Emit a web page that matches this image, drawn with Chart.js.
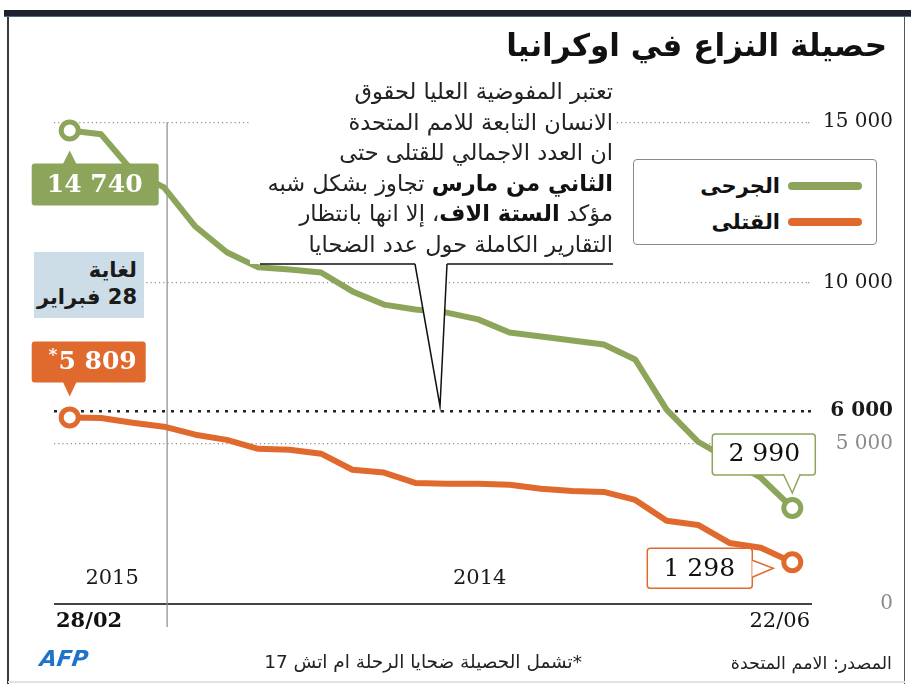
<!DOCTYPE html>
<html>
<head>
<meta charset="utf-8">
<script src="https://cdn.jsdelivr.net/npm/chart.js@4.4.1/dist/chart.umd.min.js"></script>
<style>
  body { margin: 0; background: #fff; }
  #wrap { position: relative; width: 911px; height: 684px; overflow: hidden; background: #fff; }
  #c { position: absolute; left: 0; top: 0; direction: ltr; }
  .ar { font-family: "DejaVu Sans", sans-serif; direction: rtl; position: absolute; white-space: nowrap; color: #1a1a1a; }
  #topbar { position: absolute; left: 4px; top: 10px; width: 907px; height: 6px; background: #1c2230; border-bottom: 1px solid #4d6a80; }
  #frameL { position: absolute; left: 7px; top: 17px; width: 2px; height: 667px; background: #3a3a3a; }
  #frameR { position: absolute; left: 904px; top: 17px; width: 1px; height: 667px; background: #555; }
  #frameB { position: absolute; left: 8px; top: 681px; width: 897px; height: 2px; background: #e2e2e2; }
  #title { right: 24px; top: 23px; font-size: 31px; font-weight: bold; line-height: 44px; color: #111; }
  #note { right: 298px; top: 76px; font-size: 22.5px; line-height: 30.6px; text-align: right; color: #222; }
  #note b { color: #111; }
  #since { left: 34px; top: 252px; width: 110px; height: 66px; background: #cddde7; text-align: right;
           font-size: 21px; font-weight: bold; line-height: 27px; box-sizing: border-box; padding: 5px 7px 0 0; direction: rtl; }
  #legend { position: absolute; left: 633px; top: 159px; width: 244px; height: 86px; box-sizing: border-box;
            border: 1.5px solid #8a8a8a; border-radius: 4px; background: #fff; padding-top: 8px; }
  .lrow { display: flex; justify-content: flex-end; align-items: center; height: 36px; padding-right: 14px; }
  .lrow span { font-family: "DejaVu Sans", sans-serif; font-weight: bold; font-size: 21px; color: #111; margin-right: 8px; }
  .lrow i { display: block; width: 74px; height: 8px; border-radius: 4px; }
  #foot1 { right: 329px; top: 650px; font-size: 18.5px; line-height: 24px; color: #222; }
  #foot2 { right: 19px; top: 651px; font-size: 17.5px; line-height: 24px; color: #222; }
  #afp { position: absolute; left: 40px; top: 646px; font-family: "DejaVu Sans", sans-serif; font-weight: bold; font-style: italic;
         font-size: 22px; color: #1f74c9; letter-spacing: 0px; transform: skewX(-8deg); }
</style>
</head>
<body>
<div id="wrap">
  <canvas id="c" width="911" height="684"></canvas>
  <div id="topbar"></div>
  <div id="frameL"></div>
  <div id="frameR"></div>
  <div id="frameB"></div>
  <div id="title" class="ar">حصيلة النزاع في اوكرانيا</div>
  <div id="note" class="ar">تعتبر المفوضية العليا لحقوق<br>الانسان التابعة للامم المتحدة<br>ان العدد الاجمالي للقتلى حتى<br><b>الثاني من مارس</b> تجاوز بشكل شبه<br>مؤكد <b>الستة الاف</b>، إلا انها بانتظار<br>التقارير الكاملة حول عدد الضحايا</div>
  <div id="since" class="ar">لغاية<br>28 فبراير</div>
  <div id="legend"></div>
  <div id="foot1" class="ar">*تشمل الحصيلة ضحايا الرحلة ام اتش 17</div>
  <div id="foot2" class="ar">المصدر: الامم المتحدة</div>
  <div id="afp">AFP</div>
</div>
<script>
// report dates, newest on the left (28/02/2015) back to 22/06/2014
const dates = ['28/02', '15/02', '31/01', '13/01', '12/12', '01/12', '18/11', '06/11', '31/10', '08/10',
               '01/10', '14/09', '07/09', '31/08', '27/08', '24/08', '18/08', '10/08', '04/08', '26/07',
               '19/07', '12/07', '02/07', '22/06'];
const years = ['2015', '2014'];
const wounded = [14740, 14620, 13470, 12970, 11750, 10950, 10480, 10410, 10320, 9730, 9320, 9170,
                 9070, 8860, 8450, 8330, 8200, 8080, 7610, 6050, 5050, 4490, 3930, 2990];
const killed = [5809, 5790, 5640, 5520, 5270, 5110, 4830, 4800, 4680, 4180, 4090, 3770,
                3740, 3740, 3710, 3590, 3520, 3490, 3240, 2590, 2460, 1900, 1750, 1298];
const yTicks = [0, 5000, 6000, 10000, 15000];
const threshold = 6000;
const yearBreak = 3.1;   // position of 01/01/2015 between report dates

const GREEN = '#8ca55a';
const ORANGE = '#e06a2d';
const NUM = '"DejaVu Serif", serif';

const fmt = v => String(v).replace(/\B(?=(\d{3})+(?!\d))/g, ' ');

function gridStyle(c) {
  const v = c && c.tick ? c.tick.value : null;
  if (v === 0) return { color: '#444', width: 2, dash: [] };
  if (v === threshold) return { color: '#222', width: 2.5, dash: [3, 6] };
  return { color: '#8f8f8f', width: 1.2, dash: [1.2, 3] };
}

function tri(ctx, pts, fill, stroke) {
  ctx.beginPath();
  ctx.moveTo(pts[0][0], pts[0][1]);
  ctx.lineTo(pts[1][0], pts[1][1]);
  ctx.lineTo(pts[2][0], pts[2][1]);
  ctx.closePath();
  ctx.fillStyle = fill;
  ctx.fill();
  if (stroke) {
    ctx.beginPath();
    ctx.moveTo(pts[0][0], pts[0][1]);
    ctx.lineTo(pts[1][0], pts[1][1]);
    ctx.lineTo(pts[2][0], pts[2][1]);
    ctx.strokeStyle = stroke;
    ctx.lineWidth = 1.5;
    ctx.stroke();
  }
}

function box(ctx, x, y, w, h, fill, stroke) {
  ctx.beginPath();
  ctx.roundRect(x, y, w, h, 3);
  ctx.fillStyle = fill;
  ctx.fill();
  if (stroke) {
    ctx.strokeStyle = stroke;
    ctx.lineWidth = 1.5;
    ctx.stroke();
  }
}

function text(ctx, s, x, y, font, color, align) {
  ctx.direction = 'ltr';
  ctx.font = font;
  ctx.fillStyle = color;
  ctx.textAlign = align || 'center';
  ctx.textBaseline = 'middle';
  ctx.fillText(s, x, y);
}

const overlay = {
  id: 'overlay',
  beforeDatasetsDraw(chart) {
    const { ctx, scales: { x, y } } = chart;
    const xb = x.getPixelForValue(yearBreak);
    ctx.save();
    ctx.strokeStyle = '#8a8a8a';
    ctx.lineWidth = 1.2;
    ctx.beginPath();
    ctx.moveTo(xb, y.getPixelForValue(15000));
    ctx.lineTo(xb, y.getPixelForValue(0) + 23);
    ctx.stroke();
    ctx.restore();
  },
  afterDatasetsDraw(chart) {
    const { ctx, scales: { x, y } } = chart;
    const y0 = y.getPixelForValue(0);
    ctx.save();

    // callout box behind the note
    const tipY = y.getPixelForValue(threshold) - 5;
    ctx.fillStyle = '#fff';
    ctx.fillRect(250, 74, 364, 190);
    tri(ctx, [[415, 264], [440, tipY], [447, 264]], '#fff', '#111');
    ctx.strokeStyle = '#111';
    ctx.lineWidth = 1.3;
    ctx.beginPath();
    ctx.moveTo(260, 264); ctx.lineTo(415, 264);
    ctx.moveTo(447, 264); ctx.lineTo(613, 264);
    ctx.stroke();

    // year and date labels
    text(ctx, years[0], x.getPixelForValue(1.35), y0 - 25, '21px ' + NUM, '#1a1a1a');
    text(ctx, years[1], x.getPixelForValue(13.05), y0 - 25, '21px ' + NUM, '#1a1a1a');
    text(ctx, dates[0], chart.chartArea.left + 2, y0 + 18, 'bold 21px ' + NUM, '#111', 'left');
    text(ctx, dates[dates.length - 1], chart.chartArea.right + 2, y0 + 18, '21px ' + NUM, '#111', 'right');

    const g = chart.getDatasetMeta(0).data;
    const o = chart.getDatasetMeta(1).data;
    const gl = g[g.length - 1], ol = o[o.length - 1];
    const g0 = g[0], o0 = o[0];

    // first wounded value
    box(ctx, g0.x - 38, g0.y + 33, 127, 42, GREEN);
    tri(ctx, [[g0.x - 7, g0.y + 34], [g0.x, g0.y + 20], [g0.x + 7, g0.y + 34]], GREEN);
    text(ctx, fmt(wounded[0]), g0.x + 25, g0.y + 55, 'bold 25px ' + NUM, '#fff');

    // first killed value, asterisk in front
    box(ctx, o0.x - 38, o0.y - 76, 114, 41, ORANGE);
    tri(ctx, [[o0.x - 7, o0.y - 36], [o0.x, o0.y - 21], [o0.x + 7, o0.y - 36]], ORANGE);
    ctx.font = 'bold 25px ' + NUM;
    const kw = ctx.measureText(fmt(killed[0])).width;
    text(ctx, fmt(killed[0]), o0.x + 67, o0.y - 55, 'bold 25px ' + NUM, '#fff', 'right');
    text(ctx, '*', o0.x + 67 - kw - 1, o0.y - 62, 'bold 17px ' + NUM, '#fff', 'right');

    // last wounded value
    box(ctx, gl.x - 80, gl.y - 74, 103, 41, '#fff', GREEN);
    tri(ctx, [[gl.x - 9, gl.y - 34], [gl.x, gl.y - 15], [gl.x + 8, gl.y - 34]], '#fff', GREEN);
    text(ctx, fmt(wounded[wounded.length - 1]), gl.x - 28, gl.y - 53, '25px ' + NUM, '#111');

    // last killed value
    box(ctx, ol.x - 145, ol.y - 14, 105, 40, '#fff', ORANGE);
    tri(ctx, [[ol.x - 40, ol.y - 2], [ol.x - 19, ol.y + 6], [ol.x - 40, ol.y + 15]], '#fff', ORANGE);
    text(ctx, fmt(killed[killed.length - 1]), ol.x - 93, ol.y + 7, '25px ' + NUM, '#111');

    ctx.restore();
  }
};

const ends = c => (c.dataIndex === 0 || c.dataIndex === c.dataset.data.length - 1) ? 8.5 : 0;

const chart = new Chart(document.getElementById('c'), {
  type: 'line',
  data: {
    labels: dates,
    datasets: [
      { label: 'الجرحى', data: wounded, borderColor: GREEN, backgroundColor: GREEN },
      { label: 'القتلى', data: killed, borderColor: ORANGE, backgroundColor: ORANGE }
    ].map(d => Object.assign(d, {
      borderWidth: 6, tension: 0, borderJoinStyle: 'round', fill: false,
      pointRadius: ends, pointBorderWidth: 5, pointBorderColor: d.borderColor,
      pointBackgroundColor: '#fff', clip: false
    }))
  },
  options: {
    responsive: false,
    animation: false,
    layout: { padding: { left: 54, top: 90, bottom: 80, right: 18 } },
    plugins: { legend: { display: false }, tooltip: { enabled: false } },
    scales: {
      x: { display: false, offset: true },
      y: {
        position: 'right', min: 0, max: 16000,
        afterBuildTicks: s => { s.ticks = yTicks.map(v => ({ value: v })); },
        afterFit: s => { s.width = 85; },
        grid: {
          color: c => gridStyle(c).color,
          lineWidth: c => gridStyle(c).width,
          tickBorderDash: c => gridStyle(c).dash,
          tickLength: 4
        },
        border: { display: false, dash: c => gridStyle(c).dash },
        ticks: {
          padding: 6,
          crossAlign: 'far',
          callback: v => fmt(v),
          color: c => (c.tick && (c.tick.value === 0 || c.tick.value === 5000)) ? '#8a8a8a' : '#1a1a1a',
          font: c => ({ family: NUM, size: 20, weight: (c.tick && c.tick.value === threshold) ? 'bold' : 'normal' })
        }
      }
    }
  },
  plugins: [overlay]
});

// legend built from the datasets
document.getElementById('legend').innerHTML = chart.data.datasets.map(d =>
  '<div class="lrow"><span>' + d.label + '</span><i style="background:' + d.borderColor + '"></i></div>'
).join('');
</script>
</body>
</html>
